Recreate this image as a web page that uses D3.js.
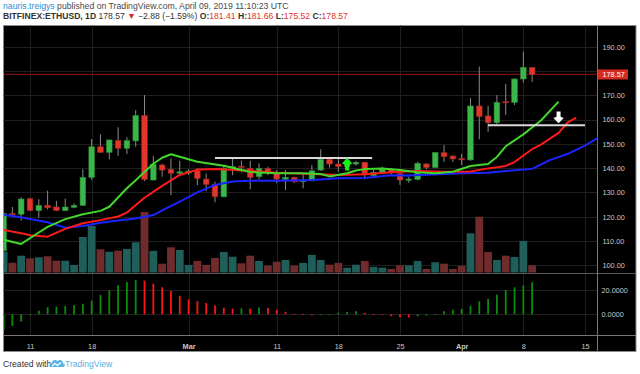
<!DOCTYPE html>
<html>
<head>
<meta charset="utf-8">
<script src="https://cdn.jsdelivr.net/npm/d3@7"></script>
<style>
  body { margin: 0; background: #fff; }
  svg { display: block; font-family: 'Liberation Sans', Arial, sans-serif; }
</style>
</head>
<body>
<div id="chart"></div>
<script>
// daily candles, BITFINEX:ETHUSD, one per day from firstDay to lastDay
var firstDay = '2019-02-08'
var lastDay = '2019-04-09'
var opens = [106.0, 121.3, 121.0, 127.4, 122.5, 124.7, 124.0, 122.5, 123.9, 124.7, 136.2, 148.8, 146.5, 151.3, 148.2, 151.2, 161.6, 135.1, 141.3, 139.5, 137.9, 138.0, 138.9, 135.5, 133.3, 128.2, 140.2, 140.8, 139.9, 136.5, 139.9, 138.3, 135.4, 136.2, 134.6, 134.8, 139.2, 143.6, 141.7, 140.6, 141.7, 142.4, 136.9, 137.9, 139.5, 137.8, 135.3, 135.4, 141.7, 140.3, 146.4, 145.0, 143.9, 143.4, 165.6, 161.5, 158.7, 167.4, 167.1, 176.7, 181.41]
var highs = [122.0, 124.0, 128.0, 127.8, 127.2, 130.7, 126.5, 127.4, 125.5, 139.6, 152.0, 153.9, 151.8, 156.8, 152.7, 163.9, 170.1, 145.0, 141.8, 144.0, 143.0, 139.5, 140.0, 137.8, 134.4, 141.3, 144.0, 143.1, 143.0, 142.0, 140.6, 139.2, 139.2, 136.5, 137.9, 141.3, 147.8, 143.8, 144.7, 142.8, 143.0, 142.6, 139.5, 140.6, 140.0, 137.8, 136.5, 142.6, 142.0, 146.6, 149.5, 145.1, 145.8, 168.8, 181.8, 165.6, 170.1, 174.6, 177.0, 188.0, 181.66]
var lows = [105.5, 120.0, 118.4, 122.3, 119.6, 123.0, 122.3, 122.3, 123.5, 124.5, 135.1, 146.3, 143.6, 145.1, 145.8, 148.8, 134.7, 135.0, 136.5, 128.9, 137.5, 137.2, 133.0, 130.5, 125.9, 128.0, 137.1, 138.3, 131.3, 135.4, 137.1, 133.8, 131.0, 134.0, 131.7, 134.6, 138.9, 140.3, 138.5, 139.8, 141.0, 135.4, 136.5, 137.5, 137.5, 133.1, 134.0, 135.0, 139.5, 140.0, 142.6, 142.6, 141.3, 143.0, 151.9, 155.0, 158.0, 161.9, 166.0, 175.2, 175.52]
var closes = [121.4, 121.0, 127.3, 122.5, 124.7, 123.7, 122.6, 124.0, 124.7, 136.2, 148.8, 146.5, 151.6, 148.2, 151.3, 161.6, 135.4, 141.6, 139.2, 137.9, 138.5, 138.8, 135.8, 133.3, 128.2, 139.9, 140.6, 140.4, 136.2, 139.9, 138.3, 135.5, 136.2, 134.4, 134.9, 138.9, 143.6, 141.7, 140.6, 142.0, 142.4, 137.2, 138.3, 139.5, 138.1, 135.1, 135.5, 142.0, 140.3, 146.4, 144.7, 143.8, 143.6, 165.6, 161.2, 158.7, 167.1, 167.2, 176.7, 181.5, 178.57]
// volume (thousands ETH)
var volumes = [104, 49, 84, 71, 76, 81, 59, 59, 38, 178, 233, 116, 104, 109, 118, 151, 303, 108, 44, 126, 113, 38, 58, 38, 73, 103, 79, 46, 84, 58, 34, 54, 63, 34, 48, 88, 63, 39, 48, 24, 39, 58, 28, 24, 18, 36, 36, 58, 18, 51, 44, 18, 33, 196, 279, 103, 63, 84, 78, 158, 36]
// awesome oscillator histogram
var aoValues = [-13, -9.6, -6, -0.8, 3, 5.8, 6.3, 6.8, 7.6, 8.7, 11.2, 15.9, 19.7, 23.9, 26.6, 28.2, 27.7, 25.2, 22.2, 19.2, 15.3, 12.3, 10.9, 9.3, 7.4, 5.4, 4.6, 4.9, 4.6, 5.6, 5.2, 3.8, 1.9, 0.5, 0.3, -0.8, -0.5, -0.2, 1.3, 1.9, 2.5, 1.1, 0.3, -0.5, -1.6, -2.2, -2.7, -1.6, -1.1, 0.2, 2.5, 3.8, 4.4, 7.1, 10.7, 12.6, 16.1, 20, 22.2, 23.9, 26.3]

// alligator lines (shifted forward past the last candle)
var lipsLine = [['2019-02-08', 110.5], ['2019-02-10', 108.8], ['2019-02-12', 113.5], ['2019-02-13', 115.8], ['2019-02-15', 119.0], ['2019-02-17', 121.0], ['2019-02-19', 122.4], ['2019-02-20', 124.1], ['2019-02-22', 131.7], ['2019-02-23', 135.0], ['2019-02-25', 141.8], ['2019-02-26', 144.3], ['2019-02-27', 145.7], ['2019-02-28', 144.7], ['2019-03-02', 142.6], ['2019-03-05', 141.0], ['2019-03-08', 138.4], ['2019-03-11', 137.9], ['2019-03-14', 137.9], ['2019-03-16', 137.6], ['2019-03-17', 136.6], ['2019-03-19', 137.9], ['2019-03-20', 139.0], ['2019-03-21', 139.6], ['2019-03-23', 139.9], ['2019-03-25', 139.2], ['2019-03-27', 138.3], ['2019-03-29', 137.9], ['2019-03-31', 138.5], ['2019-04-02', 140.9], ['2019-04-04', 141.7], ['2019-04-05', 144.6], ['2019-04-06', 149.0], ['2019-04-08', 153.9], ['2019-04-10', 159.6], ['2019-04-12', 167.4]]
var teethLine = [['2019-02-08', 114.6], ['2019-02-10', 113.2], ['2019-02-11', 112.4], ['2019-02-13', 111.8], ['2019-02-15', 115.0], ['2019-02-17', 117.3], ['2019-02-19', 118.6], ['2019-02-21', 120.1], ['2019-02-22', 121.7], ['2019-02-24', 127.8], ['2019-02-26', 132.7], ['2019-02-28', 137.2], ['2019-03-02', 139.4], ['2019-03-04', 139.6], ['2019-03-08', 138.9], ['2019-03-11', 138.1], ['2019-03-15', 137.6], ['2019-03-18', 137.2], ['2019-03-21', 137.5], ['2019-03-24', 138.3], ['2019-03-27', 138.8], ['2019-03-30', 138.5], ['2019-04-02', 138.6], ['2019-04-04', 139.9], ['2019-04-06', 140.9], ['2019-04-07', 142.5], ['2019-04-08', 145.2], ['2019-04-09', 147.8], ['2019-04-10', 149.7], ['2019-04-12', 154.5], ['2019-04-13', 158.7], ['2019-04-14', 160.8]]
var jawLine = [['2019-02-08', 120.8], ['2019-02-10', 119.8], ['2019-02-11', 119.1], ['2019-02-13', 117.7], ['2019-02-15', 115.5], ['2019-02-17', 116.2], ['2019-02-19', 117.5], ['2019-02-21', 118.4], ['2019-02-23', 119.3], ['2019-02-25', 120.7], ['2019-02-26', 122.6], ['2019-02-28', 126.2], ['2019-03-02', 130.0], ['2019-03-04', 133.1], ['2019-03-06', 134.5], ['2019-03-08', 134.8], ['2019-03-11', 134.8], ['2019-03-15', 135.1], ['2019-03-18', 135.8], ['2019-03-21', 135.9], ['2019-03-24', 137.1], ['2019-03-26', 137.0], ['2019-04-01', 137.9], ['2019-04-04', 138.1], ['2019-04-06', 138.8], ['2019-04-09', 139.7], ['2019-04-11', 143.3], ['2019-04-13', 145.8], ['2019-04-15', 149.3], ['2019-04-17', 153.6]]

// drawings on the chart
var levelLines = [['2019-03-04', '2019-03-21T20:00', 144.2], ['2019-04-04', '2019-04-15', 157.7]]
var upArrow = ['2019-03-19', 139.0, 144.3]
var downArrow = ['2019-04-12', 163.3, 158.5]

var priceTicks = [100, 110, 120, 130, 140, 150, 160, 170, 180, 190]
var aoTicks = [0, 20]
var timeTicks = ['2019-02-11', '2019-02-18', '2019-03-01', '2019-03-11', '2019-03-18', '2019-03-25', '2019-04-01', '2019-04-08', '2019-04-15']
var lastPrice = 178.57

var parse = function (s) { return d3.isoParse(s.length > 10 ? s + ':00Z' : s) }
var days = d3.utcDay.range(parse(firstDay), d3.utcDay.offset(parse(lastDay), 1))
var candles = days.map(function (d, i) {
  return { date: d, open: opens[i], high: highs[i], low: lows[i], close: closes[i], volume: volumes[i], ao: aoValues[i] }
})

var W = 640
var H = 374
var frame = { left: 3.5, right: 636, top: 25.5, bottom: 351.5 }
var axisX = 597.5
var mainBottom = 273
var oscBottom = 335.5

var x = d3.scaleUtc().domain([parse('2019-02-11'), parse('2019-04-15')]).range([30, 585])
var y = d3.scaleLinear().domain([100, 190]).range([265.3, 46.7])
var yVol = d3.scaleLinear().domain([0, 310]).range([272.5, 210.5])
var yAo = d3.scaleLinear().domain([0, 20]).range([314.3, 290])
var step = x(days[1]) - x(days[0])

var svg = d3.select('#chart').append('svg').attr('width', W).attr('height', H)
svg.append('rect').attr('width', W).attr('height', H).attr('fill', '#fff')

// header
var head1 = svg.append('text').attr('x', 3).attr('y', 8.6).attr('font-size', 8.7).attr('fill', '#4a4a4a')
head1.append('tspan').attr('fill', '#2c8fd6').text('nauris.treigys')
head1.append('tspan').text(' published on TradingView.com, April 09, 2019 11:10:23 UTC')
var head2 = svg.append('text').attr('x', 3).attr('y', 19.2).attr('font-size', 8.6).attr('fill', '#333')
head2.append('tspan').attr('font-weight', 'bold').text('BITFINEX:ETHUSD, 1D')
head2.append('tspan').text('  178.57 ')
head2.append('tspan').attr('fill', '#e0201b').text('\u25BC')
head2.append('tspan').text(' \u22122.88 (\u22121.59%) ')
var ohlc = [['O:', '181.41'], ['H:', '181.66'], ['L:', '175.52'], ['C:', '178.57']]
ohlc.forEach(function (p, i) {
  head2.append('tspan').attr('font-weight', 'bold').text((i ? ' ' : '') + p[0])
  head2.append('tspan').attr('fill', '#e0302b').text(p[1])
})

// chart frame
svg.append('rect')
  .attr('x', frame.left).attr('y', frame.top)
  .attr('width', frame.right - frame.left).attr('height', frame.bottom - frame.top)
  .attr('fill', '#000').attr('stroke', '#8c8c8c')

var defs = svg.append('defs')
defs.append('clipPath').attr('id', 'clip-main').append('rect')
  .attr('x', frame.left + 0.5).attr('y', frame.top + 0.5).attr('width', axisX - frame.left - 0.5).attr('height', mainBottom - frame.top - 0.5)
defs.append('clipPath').attr('id', 'clip-osc').append('rect')
  .attr('x', frame.left + 0.5).attr('y', mainBottom + 0.5).attr('width', axisX - frame.left - 0.5).attr('height', oscBottom - mainBottom - 0.5)

// grid
var grid = svg.append('g').attr('stroke', '#1f1f1f').attr('stroke-width', 1)
grid.selectAll('.vgrid').data(timeTicks).enter().append('line')
  .attr('x1', function (d) { return Math.round(x(parse(d))) + 0.5 })
  .attr('x2', function (d) { return Math.round(x(parse(d))) + 0.5 })
  .attr('y1', frame.top).attr('y2', oscBottom)
grid.selectAll('.hgrid').data(priceTicks).enter().append('line')
  .attr('x1', frame.left).attr('x2', axisX)
  .attr('y1', function (d) { return Math.round(y(d)) + 0.5 })
  .attr('y2', function (d) { return Math.round(y(d)) + 0.5 })
grid.selectAll('.aogrid').data(aoTicks).enter().append('line')
  .attr('x1', frame.left).attr('x2', axisX)
  .attr('y1', function (d) { return Math.round(yAo(d)) + 0.5 })
  .attr('y2', function (d) { return Math.round(yAo(d)) + 0.5 })

// pane separators and axis lines
var sep = svg.append('g').attr('stroke', '#5a5a5a').attr('stroke-width', 1)
sep.append('line').attr('x1', frame.left).attr('x2', frame.right).attr('y1', mainBottom + 0.5).attr('y2', mainBottom + 0.5)
sep.append('line').attr('x1', frame.left).attr('x2', frame.right).attr('y1', oscBottom).attr('y2', oscBottom).attr('stroke', '#777')
sep.append('line').attr('x1', axisX).attr('x2', axisX).attr('y1', frame.top).attr('y2', frame.bottom).attr('stroke', '#777')

var main = svg.append('g').attr('clip-path', 'url(#clip-main)')

// last price line
main.append('line').attr('x1', frame.left).attr('x2', axisX)
  .attr('y1', y(lastPrice)).attr('y2', y(lastPrice))
  .attr('stroke', '#7a0d0d').attr('stroke-width', 1.2)

// volume
main.append('g').selectAll('rect').data(candles).enter().append('rect')
  .attr('x', function (d) { return x(d.date) - step / 2 + 0.5 })
  .attr('width', step - 1)
  .attr('y', function (d) { return yVol(d.volume) })
  .attr('height', function (d) { return yVol(0) - yVol(d.volume) })
  .attr('fill', function (d) { return d.close >= d.open ? '#1f5e59' : '#702c2c' })

// candles
var bodyW = 5.6
var candleG = main.append('g').selectAll('g').data(candles).enter().append('g')
candleG.append('line')
  .attr('x1', function (d) { return x(d.date) }).attr('x2', function (d) { return x(d.date) })
  .attr('y1', function (d) { return y(d.high) }).attr('y2', function (d) { return y(d.low) })
  .attr('stroke', '#8a8a8a').attr('stroke-width', 1)
candleG.append('rect')
  .attr('x', function (d) { return x(d.date) - bodyW / 2 })
  .attr('width', bodyW)
  .attr('y', function (d) { return y(Math.max(d.open, d.close)) })
  .attr('height', function (d) { return Math.max(1.2, Math.abs(y(d.open) - y(d.close))) })
  .attr('fill', function (d) { return d.close >= d.open ? '#3cb54a' : '#e2352c' })
  .attr('stroke', function (d) { return d.close >= d.open ? '#2b8a37' : '#a52820' })
  .attr('stroke-width', 0.6)

// alligator
var line = d3.line()
  .x(function (d) { return x(parse(d[0])) })
  .y(function (d) { return y(d[1]) })
var alligator = [[jawLine, '#1b24ff'], [teethLine, '#ff1a1a'], [lipsLine, '#43d62b']]
alligator.forEach(function (s) {
  main.append('path').datum(s[0]).attr('d', line)
    .attr('fill', 'none').attr('stroke', s[1]).attr('stroke-width', 2).attr('stroke-linejoin', 'round')
})

// drawings
main.selectAll('.level').data(levelLines).enter().append('line')
  .attr('x1', function (d) { return x(parse(d[0])) })
  .attr('x2', function (d) { return x(parse(d[1])) })
  .attr('y1', function (d) { return y(d[2]) })
  .attr('y2', function (d) { return y(d[2]) })
  .attr('stroke', '#d9d9d9').attr('stroke-width', 2)

function arrowPath (cx, yTail, yTip) {
  var dir = yTip < yTail ? -1 : 1
  var headLen = Math.abs(yTip - yTail) * 0.55
  var yNeck = yTip - dir * headLen
  return 'M' + cx + ',' + yTip +
    'L' + (cx + 5.2) + ',' + (yNeck + dir * 1.2) +
    'L' + (cx + 2) + ',' + yNeck +
    'L' + (cx + 2) + ',' + yTail +
    'L' + (cx - 2) + ',' + yTail +
    'L' + (cx - 2) + ',' + yNeck +
    'L' + (cx - 5.2) + ',' + (yNeck + dir * 1.2) + 'Z'
}
main.append('path')
  .attr('d', arrowPath(x(parse(upArrow[0])), y(upArrow[1]), y(upArrow[2])))
  .attr('fill', '#19f219')
main.append('path')
  .attr('d', arrowPath(x(parse(downArrow[0])), y(downArrow[1]), y(downArrow[2])))
  .attr('fill', '#ffffff')

// awesome oscillator
var osc = svg.append('g').attr('clip-path', 'url(#clip-osc)')
osc.selectAll('rect').data(candles).enter().append('rect')
  .attr('x', function (d) { return x(d.date) - 0.9 })
  .attr('width', 1.8)
  .attr('y', function (d) { return Math.min(yAo(d.ao), yAo(0)) })
  .attr('height', function (d) { return Math.max(0.8, Math.abs(yAo(d.ao) - yAo(0))) })
  .attr('fill', function (d, i) { return i === 0 || d.ao >= candles[i - 1].ao ? '#0a8c0a' : '#ff1414' })

// price axis (the 180 label sits under the last-price tag, so it is not drawn)
var priceLabels = priceTicks.filter(function (t) { return Math.abs(y(t) - y(lastPrice)) > 8 })
var priceAxis = svg.append('g').attr('transform', 'translate(' + axisX + ',0)')
  .call(d3.axisRight(y).tickValues(priceLabels).tickSize(0).tickPadding(5).tickFormat(d3.format('.2f')))
priceAxis.select('.domain').remove()
priceAxis.selectAll('text').attr('fill', '#c8c8c8').attr('font-size', 7.3).attr('font-family', 'Liberation Sans, Arial, sans-serif')

var aoAxis = svg.append('g').attr('transform', 'translate(' + axisX + ',0)')
  .call(d3.axisRight(yAo).tickValues(aoTicks).tickSize(0).tickPadding(4).tickFormat(d3.format('.4f')))
aoAxis.select('.domain').remove()
aoAxis.selectAll('text').attr('fill', '#c8c8c8').attr('font-size', 7.3).attr('font-family', 'Liberation Sans, Arial, sans-serif')

// last price tag
svg.append('rect').attr('x', axisX + 0.5).attr('y', y(lastPrice) - 5).attr('width', 30).attr('height', 10).attr('fill', '#d42a22')
svg.append('text').attr('x', axisX + 5).attr('y', y(lastPrice) + 2.6)
  .attr('font-size', 7.3).attr('fill', '#fff').text(d3.format('.2f')(lastPrice))

// time axis
var monthFmt = d3.utcFormat('%b')
var dayFmt = d3.utcFormat('%-d')
var timeAxis = svg.append('g').attr('transform', 'translate(0,' + oscBottom + ')')
  .call(d3.axisBottom(x).tickValues(timeTicks.map(parse)).tickSize(0).tickPadding(8)
    .tickFormat(function (d) { return d.getUTCDate() === 1 ? monthFmt(d) : dayFmt(d) }))
timeAxis.select('.domain').remove()
timeAxis.selectAll('text').attr('fill', '#c8c8c8').attr('font-size', 7.3)
  .attr('font-family', 'Liberation Sans, Arial, sans-serif')
  .attr('font-weight', function (d) { return d.getUTCDate() === 1 ? 'bold' : 'normal' })

// footer
svg.append('text').attr('x', 3).attr('y', 366.5).attr('font-size', 8.6).attr('fill', '#333').text('Created with')
var logo = svg.append('g').attr('transform', 'translate(50,358)')
logo.append('path')
  .attr('d', 'M1,9 C-1,9 -1,5 2,5 C2,2 6,1 7.5,3.5 C9,1 13.5,2 13,5.5 C15.5,5.5 15.5,9 13,9 Z')
  .attr('fill', '#5cb3e6')
logo.append('path')
  .attr('d', 'M2,8 L5,5.5 L7.5,7.5 L11,4.5')
  .attr('fill', 'none').attr('stroke', '#fff').attr('stroke-width', 1.1)
svg.append('text').attr('x', 65).attr('y', 366.5).attr('font-size', 8.6).attr('fill', '#58b0e3').text('TradingView')
</script>
</body>
</html>
